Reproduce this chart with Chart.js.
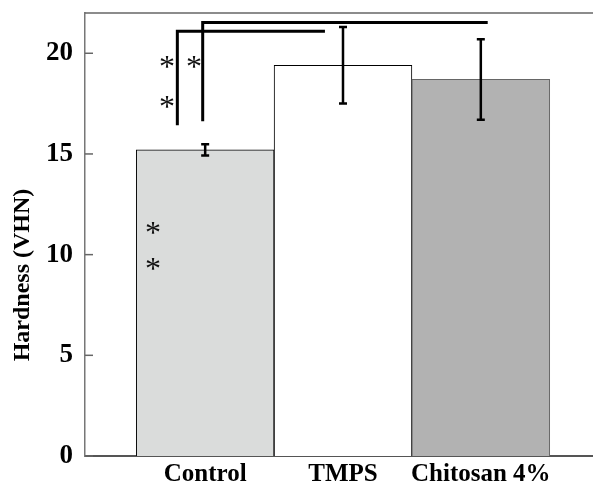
<!DOCTYPE html>
<html>
<head>
<meta charset="utf-8">
<script src="https://cdn.jsdelivr.net/npm/chart.js@4"></script>
<style>
    body { margin: 0; background: #fff; }
    canvas { display: block; }
</style>
</head>
<body>
<canvas id="hardnessChart" width="593" height="485"></canvas>
<script>
// Chart data
const categories = ['Control', 'TMPS', 'Chitosan 4%'];
const hardness = [15.2, 19.4, 18.7];
const errorValues = [0.28, 1.9, 2.0];
const yTicks = [0, 5, 10, 15, 20];
const barColors = ['#dadcdb', '#ffffff', '#b2b2b2'];

// significance brackets: [xStart, xEnd, yTop, yBottom] in data units
const bracketA = [0.798, 1.869, 21.09, 16.42];
const bracketB = [0.982, 3.05, 21.53, 16.63];
// asterisks: [x, y] in data units
const starPoints = [[0.723, 19.6], [0.723, 17.61], [0.919, 19.6], [0.621, 11.39], [0.621, 9.6]];

const serif = '"Liberation Serif", "Times New Roman", serif';

// draws error bars, brackets, stars, frame and y title
const extrasPlugin = {
    id: 'extras',
    afterDatasetsDraw(chart) {
        const ctx = chart.ctx;
        const xs = chart.scales.x;
        const ys = chart.scales.y;
        const area = chart.chartArea;
        ctx.save();

        // top frame line
        ctx.strokeStyle = '#666';
        ctx.lineWidth = 1.5;
        ctx.beginPath();
        ctx.moveTo(area.left, area.top);
        ctx.lineTo(area.right, area.top);
        ctx.stroke();

        // inward tick marks on the y axis
        yTicks.forEach(v => {
            const y = ys.getPixelForValue(v);
            ctx.beginPath();
            ctx.moveTo(area.left, y);
            ctx.lineTo(area.left + 8, y);
            ctx.stroke();
        });

        // error bars
        ctx.strokeStyle = '#000';
        ctx.lineWidth = 2.5;
        hardness.forEach((v, i) => {
            const x = xs.getPixelForValue(i + 1);
            const yHi = ys.getPixelForValue(v + errorValues[i]);
            const yLo = ys.getPixelForValue(v - errorValues[i]);
            ctx.beginPath();
            ctx.moveTo(x, yHi);
            ctx.lineTo(x, yLo);
            ctx.moveTo(x - 4, yHi);
            ctx.lineTo(x + 4, yHi);
            ctx.moveTo(x - 4, yLo);
            ctx.lineTo(x + 4, yLo);
            ctx.stroke();
        });

        // brackets
        ctx.lineWidth = 3;
        [bracketA, bracketB].forEach(b => {
            const x1 = xs.getPixelForValue(b[0]);
            const x2 = xs.getPixelForValue(b[1]);
            const yt = ys.getPixelForValue(b[2]);
            const yb = ys.getPixelForValue(b[3]);
            ctx.beginPath();
            ctx.moveTo(x1, yb);
            ctx.lineTo(x1, yt);
            ctx.lineTo(x2, yt);
            ctx.stroke();
        });

        // asterisks
        ctx.fillStyle = '#111';
        ctx.font = '32px ' + serif;
        ctx.textAlign = 'center';
        ctx.textBaseline = 'alphabetic';
        starPoints.forEach(p => {
            ctx.fillText('*', xs.getPixelForValue(p[0]), ys.getPixelForValue(p[1]) + 16);
        });

        // y axis title
        ctx.fillStyle = '#000';
        ctx.font = 'bold 24px ' + serif;
        ctx.translate(23, 275);
        ctx.rotate(-Math.PI / 2);
        ctx.textBaseline = 'middle';
        ctx.fillText('Hardness (VHN)', 0, 0);
        ctx.restore();
    }
};

const ctx = document.getElementById('hardnessChart').getContext('2d');
const hardnessChart = new Chart(ctx, {
    type: 'bar',
    data: {
        datasets: [{
            data: hardness.map((v, i) => ({ x: i + 1, y: v })),
            backgroundColor: barColors,
            borderColor: ['#000', '#000', '#666'],
            borderWidth: 1,
            categoryPercentage: 1,
            barPercentage: 1
        }]
    },
    options: {
        responsive: false,
        animation: false,
        layout: { padding: { top: 13, left: 0, right: 0, bottom: 0 } },
        plugins: {
            legend: { display: false },
            tooltip: { enabled: false }
        },
        scales: {
            x: {
                type: 'linear',
                min: 0.128,
                max: 3.814,
                offset: false,
                afterFit: scale => {
                    scale.height = 29;
                    scale.paddingLeft = 0;
                    scale.paddingRight = 0;
                },
                afterBuildTicks: scale => {
                    scale.ticks = categories.map((c, i) => ({ value: i + 1 }));
                },
                ticks: {
                    callback: v => categories[v - 1],
                    color: '#000',
                    font: { family: serif, size: 25, weight: 'bold' },
                    padding: 4,
                    maxRotation: 0,
                    autoSkip: false
                },
                grid: { display: false, drawTicks: false },
                border: { color: '#555', width: 2 }
            },
            y: {
                min: 0,
                max: 22,
                afterFit: scale => {
                    scale.width = 85;
                    scale.paddingTop = 0;
                    scale.paddingBottom = 0;
                },
                afterBuildTicks: scale => {
                    scale.ticks = yTicks.map(v => ({ value: v }));
                },
                ticks: {
                    color: '#000',
                    font: { family: serif, size: 27, weight: 'bold' },
                    padding: 12
                },
                grid: { display: false, drawTicks: false },
                border: { color: '#777', width: 1.5 }
            }
        }
    },
    plugins: [extrasPlugin]
});
</script>
</body>
</html>
